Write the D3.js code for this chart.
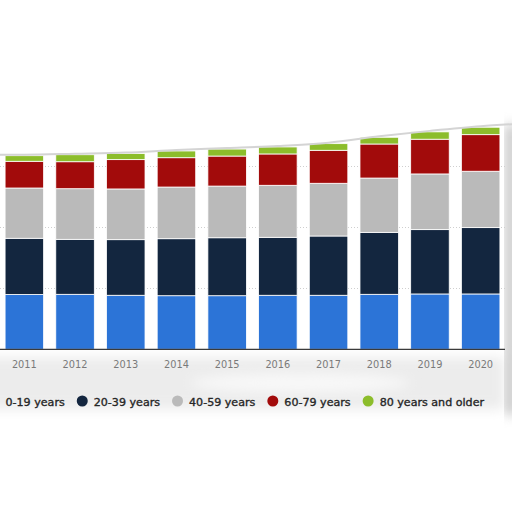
<!DOCTYPE html>
<html>
<head>
<meta charset="utf-8">
<script src="https://cdn.jsdelivr.net/npm/d3@7"></script>
<style>
  html, body { margin: 0; padding: 0; background: #fff; }
  svg { display: block; font-family: "DejaVu Sans", Verdana, sans-serif; }
</style>
</head>
<body>
<svg id="chart" width="512" height="512"></svg>
<script>
// population by age group, millions
var years     = ['2011', '2012', '2013', '2014', '2015', '2016', '2017', '2018', '2019', '2020'];
var groups    = ['0-19 years', '20-39 years', '40-59 years', '60-79 years', '80 years and older'];
var age0to19  = [6.28, 6.30, 6.19, 6.14, 6.14, 6.19, 6.19, 6.30, 6.34, 6.34];
var age20to39 = [6.44, 6.30, 6.37, 6.53, 6.64, 6.64, 6.79, 7.10, 7.37, 7.60];
var age40to59 = [5.76, 5.80, 5.81, 5.92, 5.92, 5.96, 6.04, 6.22, 6.38, 6.46];
var age60to79 = [3.06, 3.09, 3.36, 3.36, 3.44, 3.59, 3.78, 3.90, 3.98, 4.19];
var age80plus = [0.64, 0.80, 0.69, 0.77, 0.80, 0.80, 0.76, 0.77, 0.84, 0.85];
var yTicks    = [7, 14, 21];
var colors    = ['#2c74d7', '#13263f', '#bababa', '#a20b0b', '#8cbd2b'];

var series = [age0to19, age20to39, age40to59, age60to79, age80plus];
var rows = years.map(function(yr, i) {
  var row = { year: yr };
  groups.forEach(function(g, k) { row[g] = series[k][i]; });
  return row;
});

var svg = d3.select('#chart');
var baseY = 349.3;

var x = d3.scaleBand().domain(years).range([-1, 506]).paddingInner(0.24).paddingOuter(0.12);
var y = d3.scaleLinear().domain([0, 28]).range([baseY, baseY - 4 * 61.1]);
var color = d3.scaleOrdinal().domain(groups).range(colors);

var stacked = d3.stack().keys(groups)(rows);

// soft grey shadow under the axis (torn paper look)
var defs = svg.append('defs');
defs.append('filter').attr('id', 'blur')
  .attr('x', '-20%').attr('y', '-50%').attr('width', '140%').attr('height', '200%')
  .append('feGaussianBlur').attr('stdDeviation', 6);

svg.append('rect')
  .attr('x', -20).attr('y', baseY + 8).attr('width', 524).attr('height', 52)
  .attr('fill', '#ececec').attr('filter', 'url(#blur)');
svg.append('ellipse')
  .attr('cx', 300).attr('cy', 383).attr('rx', 110).attr('ry', 10)
  .attr('fill', '#f8f8f8').attr('filter', 'url(#blur)');
svg.append('rect')
  .attr('x', 506).attr('y', 125).attr('width', 10).attr('height', 290)
  .attr('fill', '#bdbdbd').attr('filter', 'url(#blur)');

// gridlines
svg.append('g').selectAll('line').data(yTicks).enter()
  .append('line')
    .attr('x1', 0).attr('x2', 505)
    .attr('y1', function(d) { return Math.round(y(d)) + 0.5; })
    .attr('y2', function(d) { return Math.round(y(d)) + 0.5; })
    .attr('stroke', '#cfcfcf')
    .attr('stroke-dasharray', '1,2')
;

// bars
svg.append('g').selectAll('g').data(stacked).enter()
  .append('g').attr('fill', function(d) { return color(d.key); })
  .selectAll('rect').data(function(d) { return d; }).enter()
    .append('rect')
      .attr('x', function(d) { return x(d.data.year); })
      .attr('width', x.bandwidth())
      .attr('y', function(d) { return y(d[1]); })
      .attr('height', function(d) { return y(d[0]) - y(d[1]); })
      .attr('stroke', '#fff')
      .attr('stroke-width', 0.8)
;

// torn top edge following the stack tops
var topLayer = stacked[stacked.length - 1];
var edge = [[-5, y(topLayer[0][1]) - 1]]
  .concat(topLayer.map(function(d) { return [x(d.data.year) + x.bandwidth() / 2, y(d[1]) - 1]; }))
  .concat([[512, y(topLayer[topLayer.length - 1][1]) - 3]]);
svg.append('path')
  .attr('d', d3.line().curve(d3.curveMonotoneX)(edge))
  .attr('fill', 'none').attr('stroke', '#d4d4d4').attr('stroke-width', 2);

// x axis
svg.append('line')
  .attr('x1', 0).attr('x2', 505)
  .attr('y1', baseY).attr('y2', baseY)
  .attr('stroke', '#3a3a3a').attr('stroke-width', 1.2);

svg.append('g').selectAll('text').data(years).enter()
  .append('text')
    .attr('x', function(d) { return x(d) + x.bandwidth() / 2; })
    .attr('y', 368)
    .attr('text-anchor', 'middle')
    .attr('font-size', 9.8)
    .attr('fill', '#7a7a7a')
    .text(function(d) { return d; })
;

// legend
var legend = svg.append('g');
var lx = -6;
groups.forEach(function(g) {
  legend.append('circle')
    .attr('cx', lx).attr('cy', 401).attr('r', 5.5)
    .attr('fill', color(g));
  var t = legend.append('text')
    .attr('x', lx + 11.5).attr('y', 405.5)
    .attr('font-size', 11.1)
    .attr('fill', '#262626')
    .attr('stroke', '#262626')
    .attr('stroke-width', 0.35)
    .text(g);
  lx = lx + 11.5 + t.node().getComputedTextLength() + 17.5;
});
</script>
</body>
</html>
